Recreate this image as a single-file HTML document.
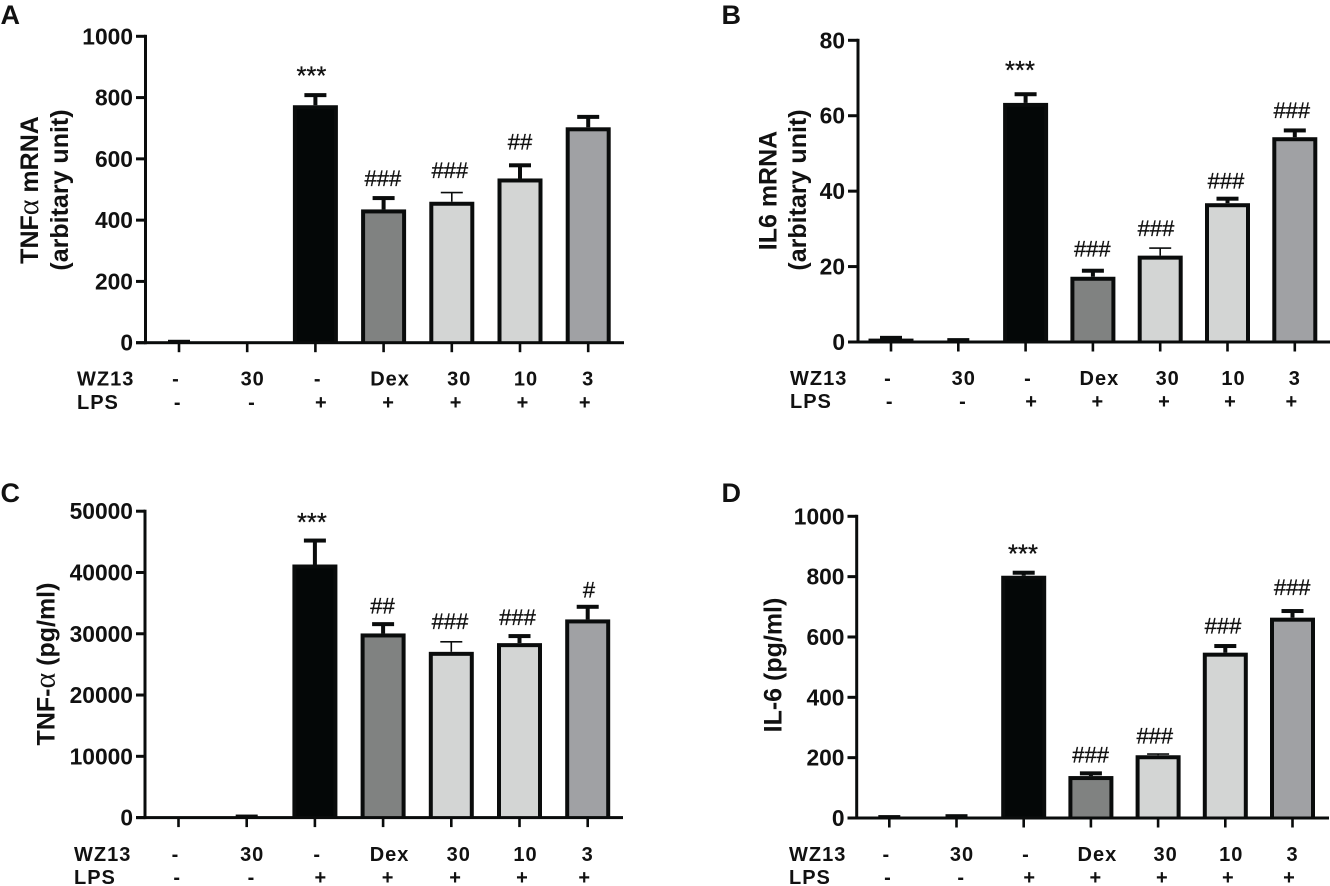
<!DOCTYPE html>
<html lang="en">
<head>
<meta charset="utf-8">
<title>Cytokine expression bar charts</title>
<style>
  html, body { margin: 0; padding: 0; background: #fff; }
  body { width: 1330px; height: 886px; overflow: hidden; }
  svg { display: block; font-family: "Liberation Sans", Arial, sans-serif; fill: #111; }
</style>
</head>
<body>
<svg id="figure" width="1330" height="886" viewBox="0 0 1330 886" xmlns="http://www.w3.org/2000/svg"></svg>
<script>
// ---- Shared categories ----
const wz13Labels = ['-', '30', '-', 'Dex', '30', '10', '3'];
const lpsLabels = ['-', '-', '+', '+', '+', '+', '+'];
const barFills = ['#040707', '#040707', '#040707', '#808281', '#d3d5d4', '#d3d5d4', '#a0a1a4'];

// ---- Panel A: TNF-alpha mRNA ----
const panelATicks = [0, 200, 400, 600, 800, 1000];
const panelAValues = [1.5, 0, 775, 435, 460, 536, 703];
const panelAErrors = [1.5, 0, 33, 37, 30, 43, 34];
const panelAMarks = ['', '', '***', '###', '###', '##', ''];

// ---- Panel B: IL6 mRNA ----
const panelBTicks = [0, 20, 40, 60, 80];
const panelBValues = [0.9, 0.3, 63.4, 17.3, 22.9, 36.8, 54.3];
const panelBErrors = [0.2, 0.2, 2.3, 1.6, 2, 1.2, 1.8];
const panelBMarks = ['', '', '***', '###', '###', '###', '###'];

// ---- Panel C: TNF-alpha protein ----
const panelCTicks = [0, 10000, 20000, 30000, 40000, 50000];
const panelCValues = [0, 50, 41300, 30050, 27050, 28470, 32340];
const panelCErrors = [0, 120, 3910, 1520, 1640, 1150, 2060];
const panelCMarks = ['', '', '***', '##', '###', '###', '#'];

// ---- Panel D: IL-6 protein ----
const panelDTicks = [0, 200, 400, 600, 800, 1000];
const panelDValues = [1, 3, 803, 139, 208, 548, 664];
const panelDErrors = [2, 3, 10, 9, 4, 22, 22];
const panelDMarks = ['', '', '***', '###', '###', '###', '###'];

const NS = 'http://www.w3.org/2000/svg';
const ink = '#0a0c0c';
const wzNudge = [-3, 5.5, 2.3, 6.5, 7.5, 6, 0];
const lpsNudge = [-1.3, 4.7, 6, 5, 4.3, 3, -3];

function add(parent, tag, name, attrs, text) {
  const node = document.createElementNS(NS, tag);
  
  
  for (const key in attrs) { node.setAttribute(key, attrs[key]); }
  if (text !== undefined) { node.textContent = text; }
  parent.appendChild(node);
  return node;
}

function drawTitle(group, name, lineParts, x, y) {
  const t = add(group, 'text', name, {
    x: x, y: y, 'text-anchor': 'middle', 'font-size': 25, 'font-weight': 'bold',
    transform: 'rotate(-90 ' + x + ' ' + y + ')'
  });
  lineParts.forEach(function (part) {
    add(t, 'tspan', 'title-fragment', part.greek
      ? { 'font-family': '"Liberation Serif", serif', 'font-weight': 'normal', 'font-size': 30 } : {}, part.text);
  });
}

function drawPanel(p) {
  const svg = document.getElementById('figure');
  const g = add(svg, 'g', 'panel-' + p.letter.toLowerCase(), {});
  const xAt = function (i) { return p.x0 + p.step * i; };
  const yAt = function (v) { return p.y0 - (v / p.max) * (p.y0 - p.top); };

  add(g, 'text', 'panel-letter', { x: p.letterX, y: p.letterY, 'font-size': 27, 'font-weight': 'bold' }, p.letter);

  p.titles.forEach(function (title, i) {
    drawTitle(g, 'y-axis-title-line-' + (i + 1), title.parts, title.x, title.y);
  });

  const bars = add(g, 'g', 'bars', {});
  p.values.forEach(function (v, i) {
    const cx = xAt(i);
    const top = yAt(v);
    const thin = i === 4;
    const sw = thin ? 1.6 : 4;
    const errTop = yAt(v + p.errors[i]);
    if (p.errors[i] > 0) {
      add(bars, 'rect', 'error-stem', { x: cx - sw / 2, y: errTop, width: sw, height: Math.max(0, top - errTop), fill: ink });
      add(bars, 'rect', 'error-cap', { x: cx - 11, y: errTop - sw / 2, width: 22, height: sw, fill: ink });
    }
    const h = p.y0 - top;
    if (h > 0) {
      add(bars, 'rect', 'bar-' + (i + 1), { x: cx - 22.5, y: top, width: 45, height: h, fill: ink });
      if (h > 5) {
        add(bars, 'rect', 'bar-fill-' + (i + 1), { x: cx - 18.5, y: top + 4, width: 37, height: h - 4, fill: barFills[i] });
      }
    }
    if (p.marks[i]) {
      const isStar = p.marks[i].charAt(0) === '*';
      add(g, 'text', 'significance-mark', {
        x: cx + p.markNudge[i], y: errTop - p.markGap[i], 'text-anchor': 'middle', 'font-size': isStar ? 25.6 : 22,
        stroke: '#111', 'stroke-width': 0.3
      }, p.marks[i]);
    }
  });

  const axes = add(g, 'g', 'axes', {});
  add(axes, 'rect', 'y-axis-line', { x: p.axisX - 1.5, y: p.top - 1.5, width: 3, height: p.y0 - p.top + 3, fill: ink });
  add(axes, 'rect', 'x-axis-line', { x: p.axisLeft, y: p.y0 - 1.5, width: p.axisRight - p.axisLeft, height: 3, fill: ink });
  p.ticks.forEach(function (t) {
    const y = yAt(t);
    add(axes, 'rect', 'y-tick', { x: p.axisLeft, y: y - 1.5, width: p.axisX - p.axisLeft, height: 3, fill: ink });
    add(axes, 'text', 'y-tick-label', { x: p.axisLeft - 3, y: y + 8, 'text-anchor': 'end', 'font-size': 22.8, 'font-weight': 'bold' }, String(t));
  });
  wz13Labels.forEach(function (label, i) {
    add(axes, 'rect', 'x-tick', { x: xAt(i) - 1.3, y: p.y0, width: 2.6, height: 9.5, fill: ink });
  });

  const rowStyle = { 'font-size': 20, 'font-weight': 'bold', 'letter-spacing': '1px' };
  add(g, 'text', 'wz13-row-title', Object.assign({ x: p.rowX, y: p.wzY }, rowStyle), 'WZ13');
  add(g, 'text', 'lps-row-title', Object.assign({ x: p.rowX, y: p.lpsY }, rowStyle), 'LPS');
  wz13Labels.forEach(function (label, i) {
    add(g, 'text', 'wz13-value', Object.assign({ x: xAt(i) + wzNudge[i], y: p.wzY, 'text-anchor': 'middle' }, rowStyle), label);
  });
  lpsLabels.forEach(function (label, i) {
    add(g, 'text', 'lps-value', Object.assign({ x: xAt(i) + lpsNudge[i], y: p.lpsY, 'text-anchor': 'middle' }, rowStyle), label);
  });
}

drawPanel({
  letter: 'A', letterX: 0.5, letterY: 24, x0: 179, step: 68.2, y0: 342.7, top: 36.3, max: 1000,
  axisX: 145.5, axisLeft: 136, axisRight: 624, rowX: 77, wzY: 385.5, lpsY: 409,
  ticks: panelATicks, values: panelAValues, errors: panelAErrors, marks: panelAMarks,
  markGap: [0, 0, 10.7, 12, 14.7, 16, 0], markNudge: [0, 0, -4, -0.7, -2, 0, 0],
  titles: [
    { x: 38, y: 190, parts: [{ text: 'TNF' }, { text: 'α', greek: true }, { text: ' mRNA' }] },
    { x: 68, y: 190, parts: [{ text: '(arbitary unit)' }] }
  ]
});

drawPanel({
  letter: 'B', letterX: 721.5, letterY: 24, x0: 891, step: 67.3, y0: 342, top: 40.3, max: 80,
  axisX: 858, axisLeft: 848, axisRight: 1330, rowX: 790, wzY: 385, lpsY: 408,
  ticks: panelBTicks, values: panelBValues, errors: panelBErrors, marks: panelBMarks,
  markGap: [0, 0, 15.4, 14, 12.3, 10.4, 12.6], markNudge: [0, 0, -5.6, -0.6, -4.2, -1.5, -3],
  titles: [
    { x: 776.7, y: 190.5, parts: [{ text: 'IL6 mRNA' }] },
    { x: 806, y: 190, parts: [{ text: '(arbitary unit)' }] }
  ]
});

drawPanel({
  letter: 'C', letterX: 0.5, letterY: 502, x0: 178.5, step: 68.2, y0: 817.6, top: 511.2, max: 50000,
  axisX: 145, axisLeft: 136, axisRight: 623, rowX: 74, wzY: 861, lpsY: 884,
  ticks: panelCTicks, values: panelCValues, errors: panelCErrors, marks: panelCMarks,
  markGap: [0, 0, 9.7, 10.7, 12.7, 11, 9.4], markNudge: [0, 0, -3, -0.6, -1.3, -2, 1.3],
  titles: [
    { x: 54.3, y: 664, parts: [{ text: 'TNF-' }, { text: 'α', greek: true }, { text: ' (pg/ml)' }] }
  ]
});

drawPanel({
  letter: 'D', letterX: 721.5, letterY: 502, x0: 889.3, step: 67.2, y0: 818, top: 516.3, max: 1000,
  axisX: 856.7, axisLeft: 847.5, axisRight: 1329, rowX: 789, wzY: 861, lpsY: 884,
  ticks: panelDTicks, values: panelDValues, errors: panelDErrors, marks: panelDMarks,
  markGap: [0, 0, 10, 10.6, 10.7, 12.7, 16], markNudge: [0, 0, -0.7, -0.3, -3.3, -2.3, -0.3],
  titles: [
    { x: 781.7, y: 665, parts: [{ text: 'IL-6 (pg/ml)' }] }
  ]
});
</script>
</body>
</html>
